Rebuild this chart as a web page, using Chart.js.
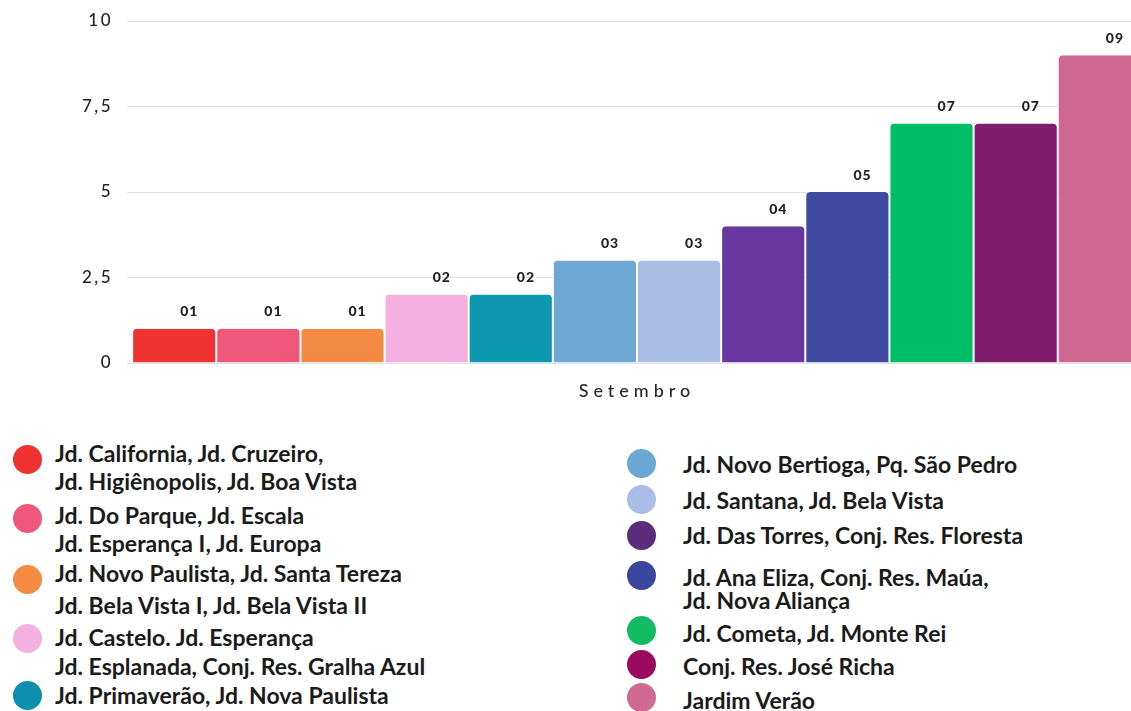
<!DOCTYPE html>
<html>
<head>
<meta charset="utf-8">
<script src="https://cdn.jsdelivr.net/npm/chart.js@4.4.1/dist/chart.umd.min.js"></script>
<style>
  html, body { margin: 0; padding: 0; background: #fff; overflow: hidden; }
  #page { position: relative; width: 1131px; height: 711px; overflow: hidden; }
  #chartBox { position: absolute; left: 0; top: 0; }
  .dot { position: absolute; width: 29px; height: 29px; border-radius: 50%; }
  .line { position: absolute; font-family: Lato, sans-serif; font-weight: 700; font-size: 23px;
          color: #1b1b1b; white-space: nowrap; line-height: 1; transform: translateY(-50%); }
</style>
</head>
<body>
<div id="page">
  <div id="chartBox"><canvas id="bars" width="1147" height="410"></canvas></div>
  <div id="legend"></div>
</div>
<script>
// data
var categories = ['Setembro'];
var neighborhoods = [
  'Jd. California, Jd. Cruzeiro,\nJd. Higiênopolis, Jd. Boa Vista',
  'Jd. Do Parque, Jd. Escala\nJd. Esperança I, Jd. Europa',
  'Jd. Novo Paulista, Jd. Santa Tereza\nJd. Bela Vista I, Jd. Bela Vista II',
  'Jd. Castelo. Jd. Esperança\nJd. Esplanada, Conj. Res. Gralha Azul',
  'Jd. Primaverão, Jd. Nova Paulista',
  'Jd. Novo Bertioga, Pq. São Pedro',
  'Jd. Santana, Jd. Bela Vista',
  'Jd. Das Torres, Conj. Res. Floresta',
  'Jd. Ana Eliza, Conj. Res. Maúa,\nJd. Nova Aliança',
  'Jd. Cometa, Jd. Monte Rei',
  'Conj. Res. José Richa',
  'Jardim Verão'
];
var counts = [1, 1, 1, 2, 2, 3, 3, 4, 5, 7, 7, 9];
var yTicks = [0, 2.5, 5, 7.5, 10];

// styles
var barColors = ['#ee3332', '#f0557a', '#f38b45', '#f5b0e2', '#0d98b2', '#6fa8d2',
                 '#aabde5', '#6838a0', '#3f4aa0', '#00bd68', '#801c6c', '#cf6890'];
var dotColors = ['#ee3332', '#f0577a', '#f38b45', '#f5b0e2', '#0f8fae', '#6aa8d6',
                 '#a9bde8', '#5b2c7c', '#3b479f', '#10bb64', '#9b0a5e', '#d16a92'];

// legend layout: column, circle centre y, first line centre y, line step
var legendLayout = [
  { col: 0, dotY: 459, textY: 453, step: 28 },
  { col: 0, dotY: 518, textY: 515, step: 28 },
  { col: 0, dotY: 579, textY: 573, step: 32 },
  { col: 0, dotY: 638, textY: 637, step: 29 },
  { col: 0, dotY: 695, textY: 695, step: 28 },
  { col: 1, dotY: 463, textY: 464, step: 24 },
  { col: 1, dotY: 499, textY: 500, step: 24 },
  { col: 1, dotY: 535, textY: 535, step: 24 },
  { col: 1, dotY: 575, textY: 577, step: 23 },
  { col: 1, dotY: 630, textY: 633, step: 24 },
  { col: 1, dotY: 664, textY: 666, step: 24 },
  { col: 1, dotY: 697, textY: 700, step: 24 }
];
var colDotX = [27, 641];
var colTextX = [55, 683];

function buildLegend() {
    var box = document.getElementById('legend');
    neighborhoods.forEach(function (name, i) {
        var lay = legendLayout[i];
        var dot = document.createElement('div');
        dot.className = 'dot';
        dot.style.background = dotColors[i];
        dot.style.left = (colDotX[lay.col] - 14.5) + 'px';
        dot.style.top = (lay.dotY - 14.5) + 'px';
        box.appendChild(dot);
        name.split('\n').forEach(function (txt, k) {
            var el = document.createElement('div');
            el.className = 'line';
            el.textContent = txt;
            el.style.left = colTextX[lay.col] + 'px';
            el.style.top = (lay.textY + k * lay.step) + 'px';
            box.appendChild(el);
        });
    });
}

// spaced-out axis text + value labels above bars ("01", "02", ...)
var valueLabels = {
    id: 'valueLabels',
    afterUpdate: function (chart) {
        var xs = chart.scales.x;
        if (xs && !xs._spaced) {
            var orig = xs.drawLabels;
            xs.drawLabels = function (area) {
                this.ctx.letterSpacing = '5px';
                orig.call(this, area);
                this.ctx.letterSpacing = '2.5px';
            };
            xs._spaced = true;
        }
    },
    beforeDraw: function (chart) {
        chart.ctx.letterSpacing = '2.5px';
    },
    beforeDatasetsDraw: function (chart) {
        chart.ctx.letterSpacing = '0px';
    },
    afterDatasetsDraw: function (chart) {
        var ctx = chart.ctx;
        ctx.save();
        ctx.font = '900 14px Lato, sans-serif';
        ctx.letterSpacing = '1px';
        ctx.fillStyle = '#222';
        ctx.textAlign = 'center';
        ctx.textBaseline = 'middle';
        chart.data.datasets.forEach(function (ds, i) {
            var bar = chart.getDatasetMeta(i).data[0];
            var v = ds.data[0];
            var txt = (v < 10 ? '0' : '') + v;
            ctx.fillText(txt, bar.x + bar.width * 0.18, bar.y - 17);
        });
        ctx.restore();
    }
};

function setupChart() {
    var datasets = counts.map(function (v, i) {
        return {
            label: neighborhoods[i].replace('\n', ' '),
            data: [v],
            backgroundColor: barColors[i],
            borderColor: '#ffffff',
            borderWidth: { left: 1, right: 1, top: 0, bottom: 0 },
            borderRadius: { topLeft: 5, topRight: 5 },
            borderSkipped: 'start',
            barPercentage: 1,
            categoryPercentage: 0.99
        };
    });

    new Chart(document.getElementById('bars'), {
        type: 'bar',
        data: { labels: categories, datasets: datasets },
        plugins: [valueLabels],
        options: {
            responsive: false,
            animation: false,
            layout: { padding: 0 },
            plugins: {
                legend: { display: false },
                tooltip: { enabled: false }
            },
            scales: {
                x: {
                    grid: { display: false, drawTicks: false },
                    border: { display: false },
                    ticks: {
                        color: '#2a2a2a',
                        font: { family: 'Lato, sans-serif', size: 18, weight: 500 },
                        padding: 17
                    },
                    afterFit: function (s) { s.height = 47; }
                },
                y: {
                    min: 0,
                    max: 10,
                    afterBuildTicks: function (s) {
                        s.ticks = yTicks.map(function (v) { return { value: v }; });
                    },
                    grid: { color: '#e2e2e2', drawTicks: false },
                    border: { display: false },
                    ticks: {
                        color: '#222',
                        font: { family: 'Lato, sans-serif', size: 17, weight: 500 },
                        padding: 14,
                        callback: function (v) { return String(v).replace('.', ','); }
                    },
                    afterFit: function (s) {
                        s.width = 127;
                        s.paddingTop = 21;
                        s.paddingBottom = 0;
                    }
                }
            }
        }
    });
}

buildLegend();
setupChart();
</script>
</body>
</html>
